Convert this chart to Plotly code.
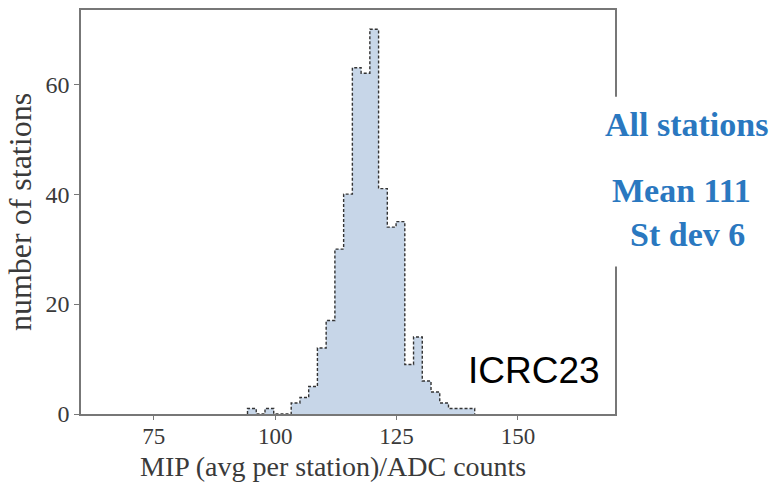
import plotly.graph_objects as go

# Histogram data
bin_edges = [94.3, 96.1, 97.9, 99.7, 101.5, 103.3, 105.1, 106.9, 108.7, 110.5,
             112.3, 114.1, 115.9, 117.7, 119.5, 121.3, 123.1, 124.9, 126.7, 128.5,
             130.3, 132.1, 133.9, 135.7, 137.5, 139.3, 141.1]
counts = [1, 0, 1, 0, 0, 2, 3, 5, 12, 17, 30, 40, 63, 62, 70, 41, 34, 35, 9, 14,
          6, 4, 2, 1, 1, 1]

x_ticks = [75, 100, 125, 150]
y_ticks = [0, 20, 40, 60]

x_step = [bin_edges[0]] + bin_edges[:-1] + [bin_edges[-1]]
y_step = [0] + counts + [0]

TXT = "#3a3a3a"
SERIF = "Liberation Serif, Times New Roman, serif"
BLUE = "#2a78c0"

fig = go.Figure()
fig.add_trace(go.Scatter(
    x=x_step, y=y_step, mode="lines", line_shape="hv",
    fill="tozeroy", fillcolor="#c7d6e8",
    line=dict(color="#333333", width=1.4, dash="3px,2px"),
    hoverinfo="skip", showlegend=False,
))

fig.update_layout(
    width=773, height=482,
    margin=dict(l=81, r=158, t=8, b=68),
    paper_bgcolor="white", plot_bgcolor="white",
    showlegend=False,
    xaxis=dict(
        range=[60, 170], tickvals=x_ticks, ticktext=[str(v) for v in x_ticks],
        showgrid=False, zeroline=False, showline=True, mirror=True,
        linecolor="#777777", linewidth=1.5,
        ticks="outside", ticklen=4, tickwidth=1.2, tickcolor="#777777",
        ticklabelstandoff=-3,
        tickfont=dict(family=SERIF, size=23, color=TXT),
    ),
    yaxis=dict(
        range=[0, 73.5], tickvals=y_ticks, ticktext=[str(v) for v in y_ticks],
        showgrid=False, zeroline=False, showline=True, mirror=True,
        linecolor="#777777", linewidth=1.5,
        ticks="outside", ticklen=5, tickwidth=1.2, tickcolor="#777777",
        tickfont=dict(family=SERIF, size=24, color=TXT),
        title=dict(text="number of stations",
                   font=dict(family=SERIF, size=32, color=TXT), standoff=4),
    ),
)

# x-axis title (slightly left of plot centre, as in the reference)
fig.add_annotation(text="MIP (avg per station)/ADC counts", xref="paper", yref="paper",
                   x=0.472, y=-0.131, showarrow=False, xanchor="center", yanchor="middle",
                   borderpad=0, font=dict(family=SERIF, size=28, color=TXT))

# white text box on the right covering the frame
fig.add_shape(type="rect", xref="paper", yref="paper",
              x0=0.975, x1=1.30, y0=0.365, y1=0.785,
              fillcolor="white", line=dict(width=0), layer="above")

fig.add_annotation(text="<b>All stations</b>", xref="paper", yref="paper",
                   x=1.133, y=0.717, showarrow=False, xanchor="center", yanchor="middle",
                   font=dict(family=SERIF, size=34, color=BLUE))
fig.add_annotation(text="<b>Mean 111</b>", xref="paper", yref="paper",
                   x=1.124, y=0.554, showarrow=False, xanchor="center", yanchor="middle",
                   font=dict(family=SERIF, size=34, color=BLUE))
fig.add_annotation(text="<b>St dev 6</b>", xref="paper", yref="paper",
                   x=1.135, y=0.445, showarrow=False, xanchor="center", yanchor="middle",
                   font=dict(family=SERIF, size=34, color=BLUE))
fig.add_annotation(text="ICRC23", xref="paper", yref="paper",
                   x=0.849, y=0.108, showarrow=False, xanchor="center", yanchor="middle",
                   font=dict(family="Liberation Sans, Arial, sans-serif", size=37, color="black"))

fig.write_html("out.html")
